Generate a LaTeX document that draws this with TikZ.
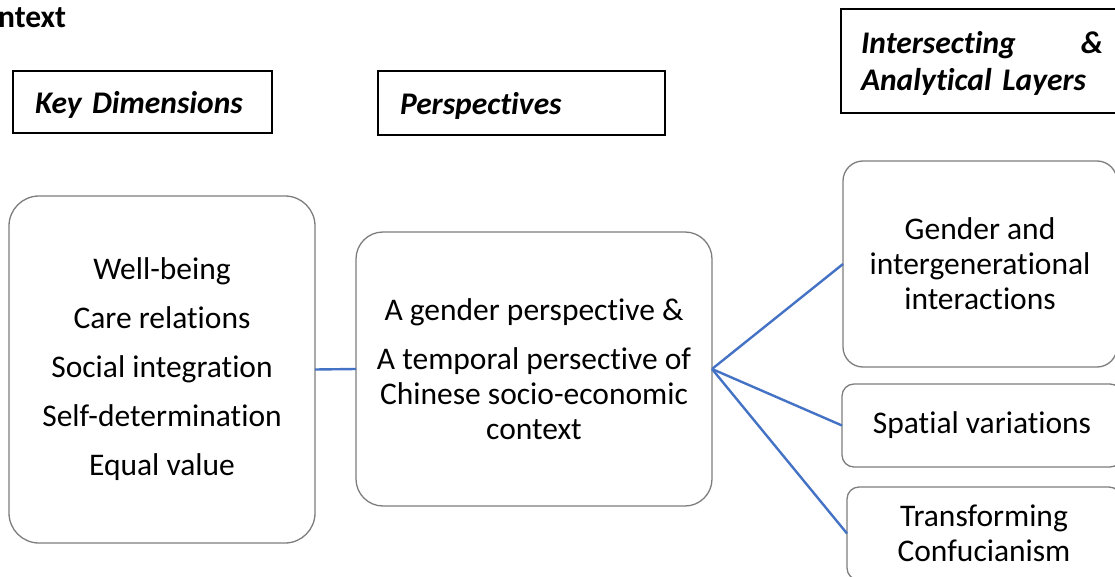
\documentclass[tikz,border=0pt]{standalone}
\usepackage{fontspec}
\setmainfont[Ligatures=NoCommon]{Carlito}
\usepackage{tikz}
\setlength{\parindent}{0pt}
\definecolor{linkblue}{RGB}{68,114,196}
\definecolor{boxgray}{RGB}{125,125,125}
\newcommand{\boxfont}{\fontsize{31.5}{35}\selectfont}
\tikzstyle{box}=[draw=boxgray, line width=1.3pt, align=center, inner sep=0, outer sep=0, font=\boxfont]
\tikzstyle{rbox}[12pt]=[box, rounded corners=#1]
\tikzstyle{header}=[draw, line width=2pt, align=left, inner xsep=22pt, inner ysep=0, outer sep=0,
                    text depth=0pt, font=\boxfont\bfseries\itshape]
\tikzstyle{link}=[draw=linkblue, line width=2.4pt]

\begin{document}
\begin{tikzpicture}[x=1pt, y=-1pt]
        \useasboundingbox (0, 0) rectangle (1115, 577);
        \clip (0, 0) rectangle (1115, 577);
        % headings
        \node[anchor=base west, inner sep=0, font=\boxfont\bfseries] (Title) at (-2, 28) {ntext};
        \node[header, minimum width=259pt, text width=215pt, minimum height=62pt] (Hkey) at (142.5, 102) {Key Dimensions};
        \node[header, minimum width=287pt, text width=243pt, minimum height=64pt] (Hpersp) at (521.5, 103) {Perspectives};
        \node[header, inner xsep=20pt, minimum width=282pt, text width=242pt, minimum height=104pt,
              text height=20pt, text depth=34pt,
              font=\fontsize{31.5}{37}\selectfont\bfseries\itshape] (Hlayers) at (982, 61)
              {Intersecting \hfill \&\\Analytical Layers};
        % boxes
        \node[rbox=30pt, minimum width=306pt, minimum height=347pt] (Dims) at (162, 369.5)
              {Well-being\\[14pt]Care relations\\[14pt]Social integration\\[14pt]Self-determination\\[14pt]Equal value};
        \node[rbox=27pt, minimum width=356pt, minimum height=274pt] (Persp) at (534, 369)
              {A gender perspective \&\\[14pt]A temporal persective of\\Chinese socio-economic\\context};
        \node[rbox=20pt, minimum width=274pt, minimum height=206pt] (L1) at (980, 264)
              {Gender and\\intergenerational\\interactions};
        \node[rbox, minimum width=280pt, minimum height=83pt] (L2) at (982, 425.5) {Spatial variations};
        \node[rbox, minimum width=274pt, minimum height=93pt] (L3) at (984, 533.5) {Transforming\\Confucianism};
        % links
        \draw[link] (Dims.east) -- (Persp.west);
        \draw[link] (Persp.east) -- (L1.west);
        \draw[link] (Persp.east) -- (L2.west);
        \draw[link] (Persp.east) -- (L3.west);
    \end{tikzpicture}
\end{document}
